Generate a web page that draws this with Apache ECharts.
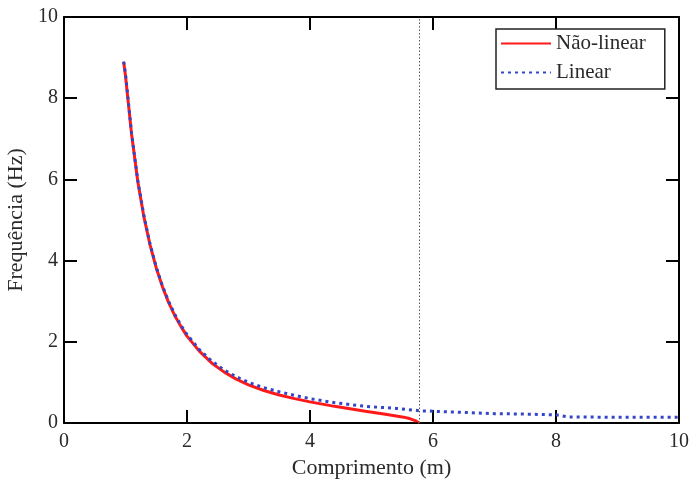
<!DOCTYPE html>
<html>
<head>
<meta charset="utf-8">
<script src="https://cdn.jsdelivr.net/npm/echarts@6/dist/echarts.min.js"></script>
<style>html,body{margin:0;padding:0;background:#fff}#c{width:692px;height:481px}</style>
</head>
<body>
<div id="c"></div>
<script>
const xTicks = [0, 2, 4, 6, 8, 10];
const yTicks = [0, 2, 4, 6, 8, 10];
const nonLinearX = [0.97, 1.0, 1.1, 1.2, 1.3, 1.4, 1.5, 1.6, 1.7, 1.8, 1.9, 2.0, 2.2, 2.4, 2.6, 2.8, 3.0, 3.25, 3.5, 3.75, 4.0, 4.4, 4.9, 5.2, 5.5, 5.62, 5.71, 5.77];
const nonLinearY = [8.9, 8.55, 7.1, 5.95, 5.07, 4.38, 3.82, 3.36, 2.97, 2.65, 2.38, 2.14, 1.77, 1.48, 1.26, 1.08, 0.94, 0.80, 0.69, 0.60, 0.52, 0.41, 0.29, 0.22, 0.15, 0.11, 0.06, 0.0];
const linearX = [0.97, 1.0, 1.1, 1.2, 1.3, 1.4, 1.5, 1.6, 1.7, 1.8, 1.9, 2.0, 2.2, 2.4, 2.6, 2.8, 3.0, 3.25, 3.5, 3.75, 4.0, 4.4, 4.9, 5.4, 5.8, 6.0, 6.5, 7.0, 7.5, 8.0, 8.2, 9.0, 10.0];
const linearY = [8.9, 8.6, 7.12, 5.97, 5.1, 4.4, 3.84, 3.38, 3.0, 2.68, 2.41, 2.18, 1.81, 1.53, 1.31, 1.14, 1.0, 0.87, 0.77, 0.68, 0.6, 0.5, 0.41, 0.36, 0.3, 0.29, 0.26, 0.23, 0.22, 0.2, 0.15, 0.14, 0.14];
const boundaryX = 5.77;
const seriesNames = ['Não-linear', 'Linear'];
const xName = 'Comprimento (m)';
const yName = 'Frequência (Hz)';

const FONT = 'Liberation Serif';
const TXT = '#2a2a2a';
const zip = (xs, ys) => xs.map((x, i) => [x, ys[i]]);
const chart = echarts.init(document.getElementById('c'));
const axisCommon = {
  type: 'value', min: 0, max: 10, interval: 2,
  axisLine: { show: true, onZero: false, lineStyle: { color: '#000', width: 2 } },
  axisTick: { show: true, inside: true, length: 13, lineStyle: { color: '#000', width: 2 } },
  splitLine: { show: false }
};
chart.setOption({
  animation: false,
  backgroundColor: '#fff',
  grid: { left: 64, right: 13, top: 17, bottom: 58, containLabel: false, outerBoundsMode: 'none' },
  legend: {
    orient: 'vertical', left: 496, top: 29,
    itemWidth: 50, itemHeight: 14, itemGap: 8,
    padding: [4, 19, 6, 4],
    borderColor: '#222', borderWidth: 1.5, backgroundColor: '#fff',
    itemStyle: { opacity: 0 },
    textStyle: { fontFamily: FONT, fontSize: 21, lineHeight: 21, color: TXT },
    data: seriesNames
  },
  xAxis: [
    Object.assign({}, axisCommon, {
      position: 'bottom',
      name: xName, nameLocation: 'middle', nameGap: 32,
      nameTextStyle: { fontFamily: FONT, fontSize: 22, color: TXT },
      axisLabel: { fontFamily: FONT, fontSize: 20, color: TXT, margin: 9,
        customValues: xTicks }
    }),
    Object.assign({}, axisCommon, { position: 'top', axisLabel: { show: false } })
  ],
  yAxis: [
    Object.assign({}, axisCommon, {
      position: 'left',
      name: yName, nameLocation: 'middle', nameGap: 32,
      nameTextStyle: { fontFamily: FONT, fontSize: 22, color: TXT },
      axisLabel: { fontFamily: FONT, fontSize: 20, color: TXT, margin: 6,
        customValues: yTicks }
    }),
    Object.assign({}, axisCommon, { position: 'right', axisLabel: { show: false } })
  ],
  series: [
    {
      name: seriesNames[0], type: 'line', data: zip(nonLinearX, nonLinearY),
      symbol: 'none', smooth: false, color: '#ff1a1a',
      lineStyle: { color: '#ff1a1a', width: 3 },
      z: 2,
      markLine: {
        silent: true, symbol: 'none', label: { show: false },
        data: [
          { xAxis: boundaryX, lineStyle: { color: '#555', type: [1.5, 2], width: 1 } },
          { yAxis: 0, lineStyle: { color: '#000', type: [2, 2], width: 1.5 } }
        ]
      }
    },
    {
      name: seriesNames[1], type: 'line', data: zip(linearX, linearY),
      symbol: 'none', smooth: false, color: '#3345c8',
      lineStyle: { color: '#3345c8', width: 3, type: [3, 4] },
      z: 3
    }
  ]
});
</script>
</body>
</html>
